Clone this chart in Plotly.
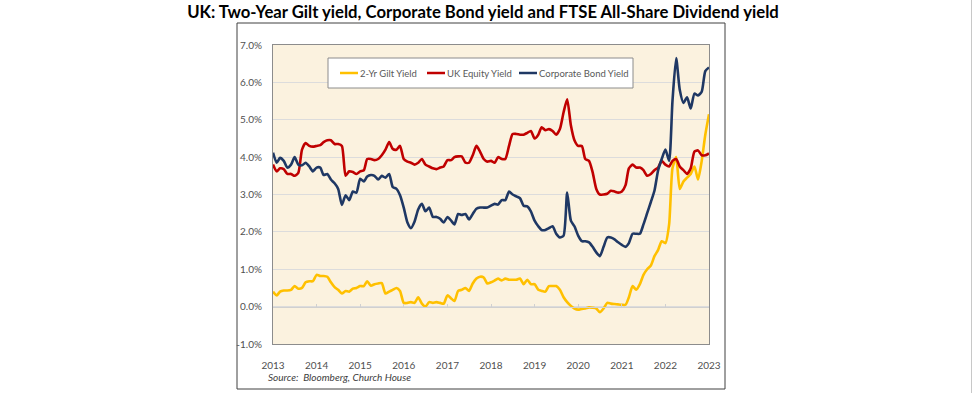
import pandas as pd
import plotly.graph_objects as go

dates = pd.date_range("2013-01-01", periods=121, freq="MS")

gilt_2yr = [0.40, 0.30, 0.40, 0.43, 0.43, 0.45, 0.55, 0.48, 0.50, 0.65, 0.68, 0.68,
            0.85, 0.82, 0.82, 0.80, 0.65, 0.52, 0.45, 0.35, 0.42, 0.40, 0.48, 0.50,
            0.55, 0.55, 0.68, 0.56, 0.60, 0.62, 0.63, 0.35, 0.40, 0.45, 0.50, 0.42,
            0.10, 0.10, 0.12, 0.10, 0.25, 0.08, 0.00, 0.12, 0.10, 0.12, 0.10, 0.08,
            0.30, 0.22, 0.15, 0.42, 0.45, 0.50, 0.42, 0.62, 0.75, 0.80, 0.78, 0.62,
            0.65, 0.70, 0.75, 0.70, 0.75, 0.72, 0.72, 0.72, 0.75, 0.60, 0.72, 0.60,
            0.60, 0.45, 0.42, 0.40, 0.55, 0.55, 0.55, 0.45, 0.25, 0.12, 0.02, -0.05,
            -0.08, -0.06, -0.05, -0.02, -0.03, -0.05, -0.15, -0.05, 0.10, 0.08, 0.07, 0.06,
            0.05, 0.05, 0.25, 0.55, 0.45, 0.60, 0.85, 1.00, 1.10, 1.35, 1.52, 1.75,
            1.70, 2.20, 3.70, 4.00, 3.15, 3.35, 3.45, 3.55, 3.75, 3.40, 3.90, 4.60,
            5.15]

uk_equity = [3.80, 3.62, 3.70, 3.68, 3.55, 3.55, 3.50, 3.58, 4.20, 4.38, 4.30, 4.28,
             4.30, 4.32, 4.40, 4.45, 4.45, 4.35, 4.35, 4.30, 3.50, 3.62, 3.60, 3.55,
             3.62, 3.65, 3.95, 3.95, 3.92, 3.95, 4.05, 4.20, 4.40, 4.22, 4.20, 4.30,
             3.95, 3.88, 3.85, 3.80, 3.85, 3.95, 3.80, 3.75, 3.70, 3.68, 3.72, 3.75,
             3.92, 3.92, 4.00, 4.02, 4.02, 3.85, 3.85, 4.05, 4.30, 4.15, 3.95, 3.88,
             3.90, 3.85, 4.00, 3.95, 3.95, 4.30, 4.62, 4.62, 4.60, 4.60, 4.65, 4.70,
             4.50, 4.60, 4.80, 4.72, 4.75, 4.70, 4.60, 4.75, 5.20, 5.55, 4.85, 4.45,
             4.30, 4.30, 3.95, 3.90, 3.60, 3.15, 3.00, 3.00, 3.02, 3.10, 3.08, 3.05,
             3.08, 3.25, 3.70, 3.80, 3.72, 3.72, 3.65, 3.50, 3.55, 3.65, 3.72, 3.90,
             3.80, 3.75, 3.90, 3.95, 3.75, 3.65, 3.55, 3.70, 4.15, 4.18, 4.05, 4.05,
             4.10]

corp_bond = [4.12, 3.85, 3.98, 3.90, 3.72, 3.80, 4.00, 3.80, 3.78, 3.85, 3.75, 3.62,
             3.72, 3.72, 3.52, 3.55, 3.40, 3.30, 3.15, 2.72, 2.98, 2.85, 3.08, 3.05,
             3.42, 3.35, 3.48, 3.52, 3.50, 3.40, 3.50, 3.45, 3.55, 3.20, 3.15, 2.98,
             2.65, 2.25, 2.10, 2.28, 2.60, 2.75, 2.55, 2.65, 2.40, 2.40, 2.35, 2.25,
             2.40, 2.30, 2.20, 2.48, 2.45, 2.48, 2.33, 2.48, 2.62, 2.65, 2.65, 2.65,
             2.70, 2.75, 2.73, 2.85, 2.85, 3.08, 3.00, 2.95, 2.90, 2.70, 2.68, 2.55,
             2.30, 2.15, 2.05, 2.05, 2.10, 2.15, 1.95, 1.85, 1.90, 3.05, 2.30, 2.15,
             1.90, 1.75, 1.75, 1.72, 1.60, 1.45, 1.35, 1.60, 1.85, 1.85, 1.80, 1.72,
             1.65, 1.60, 1.70, 1.95, 1.95, 1.95, 2.20, 2.50, 2.80, 3.10, 3.65, 3.95,
             4.20, 3.90, 5.50, 6.65, 5.80, 5.45, 5.60, 5.30, 5.70, 5.65, 5.75, 6.30,
             6.40]

series_names = ["2-Yr Gilt Yield", "UK Equity Yield", "Corporate Bond Yield"]
series_colors = ["#FFC000", "#C00000", "#1F3864"]
year_ticks = [str(y) for y in range(2013, 2024)]
y_ticks = [-1, 0, 1, 2, 3, 4, 5, 6, 7]

FONT = "Lato"
# plot-area geometry in page pixels
PL, PR, PT, PB = 273, 709, 45, 344


def px_x(px):
    return (px - PL) / (PR - PL)


def px_y(py):
    return (PB - py) / (PB - PT)


fig = go.Figure()
for name, vals, col in zip(series_names, [gilt_2yr, uk_equity, corp_bond], series_colors):
    fig.add_trace(go.Scatter(
        x=dates, y=vals, name=name, mode="lines", showlegend=False,
        line=dict(color=col, width=2.6, shape="spline", smoothing=0.6),
    ))

# secondary x axis along the 0% line carrying the tick marks
fig.add_trace(go.Scatter(x=[dates[0], dates[-1]], y=[None, None], xaxis="x2",
                         showlegend=False, hoverinfo="skip"))

year_dates = [pd.Timestamp(f"{y}-01-01") for y in range(2013, 2024)]
x_range = [year_dates[0], year_dates[-1]]
fig.update_layout(
    width=973, height=393,
    margin=dict(l=PL, r=973 - PR, t=PT, b=393 - PB),
    paper_bgcolor="white",
    plot_bgcolor="#FBF2DF",
    font=dict(family=FONT, color="#505050", size=10),
    title=dict(
        text="<b>UK: Two-Year Gilt yield, Corporate Bond yield and FTSE All-Share Dividend yield</b>",
        x=483 / 973, xref="container", xanchor="center",
        y=1 - 12 / 393, yref="container", yanchor="middle",
        font=dict(family=FONT, size=16.7, color="black"),
    ),
    xaxis=dict(
        range=x_range, tickvals=year_dates, ticktext=year_ticks,
        showgrid=False, showline=True, linecolor="#8C8C8C", mirror=True,
        linewidth=1, ticks="", ticklabelstandoff=12, zeroline=False,
        tickfont=dict(size=10, color="#505050"),
    ),
    xaxis2=dict(
        range=x_range, overlaying="x", anchor="free", position=1 / 8,
        tickvals=year_dates,
        showticklabels=False, showgrid=False, showline=True, linecolor="#D0D0D0",
        ticks="inside", ticklen=3, tickcolor="#D0D0D0", zeroline=False,
    ),
    yaxis=dict(
        range=[-1, 7], tickvals=y_ticks, ticktext=[f"{v:.1f}%" for v in y_ticks],
        showgrid=True, gridcolor="#DCDCDC", gridwidth=1, zeroline=False,
        showline=True, linecolor="#8C8C8C", linewidth=1, mirror=True,
        ticks="", ticklabelstandoff=8, tickfont=dict(size=10, color="#505050"),
    ),
    showlegend=False,
)

# legend box (drawn by hand to match the compact Excel legend)
fig.add_shape(type="rect", xref="paper", yref="paper",
              x0=px_x(328), x1=px_x(633), y0=px_y(88), y1=px_y(58),
              line=dict(color="#8C8C8C", width=1), fillcolor="white", layer="above")
legend_starts = [340, 427, 519]
for name, col, sx in zip(series_names, series_colors, legend_starts):
    fig.add_shape(type="line", xref="paper", yref="paper",
                  x0=px_x(sx), x1=px_x(sx + 18), y0=px_y(73), y1=px_y(73),
                  line=dict(color=col, width=2.5), layer="above")
    fig.add_annotation(text=name, xref="paper", yref="paper",
                       x=px_x(sx + 18), y=px_y(73), xanchor="left", yanchor="middle",
                       showarrow=False, font=dict(family=FONT, size=9.5, color="#595959"))

# outer chart frame and right-hand divider
fig.add_shape(type="rect", xref="paper", yref="paper",
              x0=px_x(237), x1=px_x(725), y0=px_y(389), y1=px_y(23),
              line=dict(color="#404040", width=1), fillcolor="rgba(0,0,0,0)", layer="below")
fig.add_shape(type="line", xref="paper", yref="paper",
              x0=px_x(971.5), x1=px_x(971.5), y0=px_y(393), y1=px_y(0),
              line=dict(color="#C8C8C8", width=1))

fig.add_annotation(
    text="<i>Source:  Bloomberg, Church House</i>", xref="paper", yref="paper",
    x=px_x(266), y=px_y(377), xanchor="left", yanchor="middle",
    showarrow=False, font=dict(family=FONT, size=10, color="#404040"),
)

fig.write_html("out.html", config={"displayModeBar": False},
               post_script="document.body.style.margin='0';document.body.style.overflow='hidden';")
